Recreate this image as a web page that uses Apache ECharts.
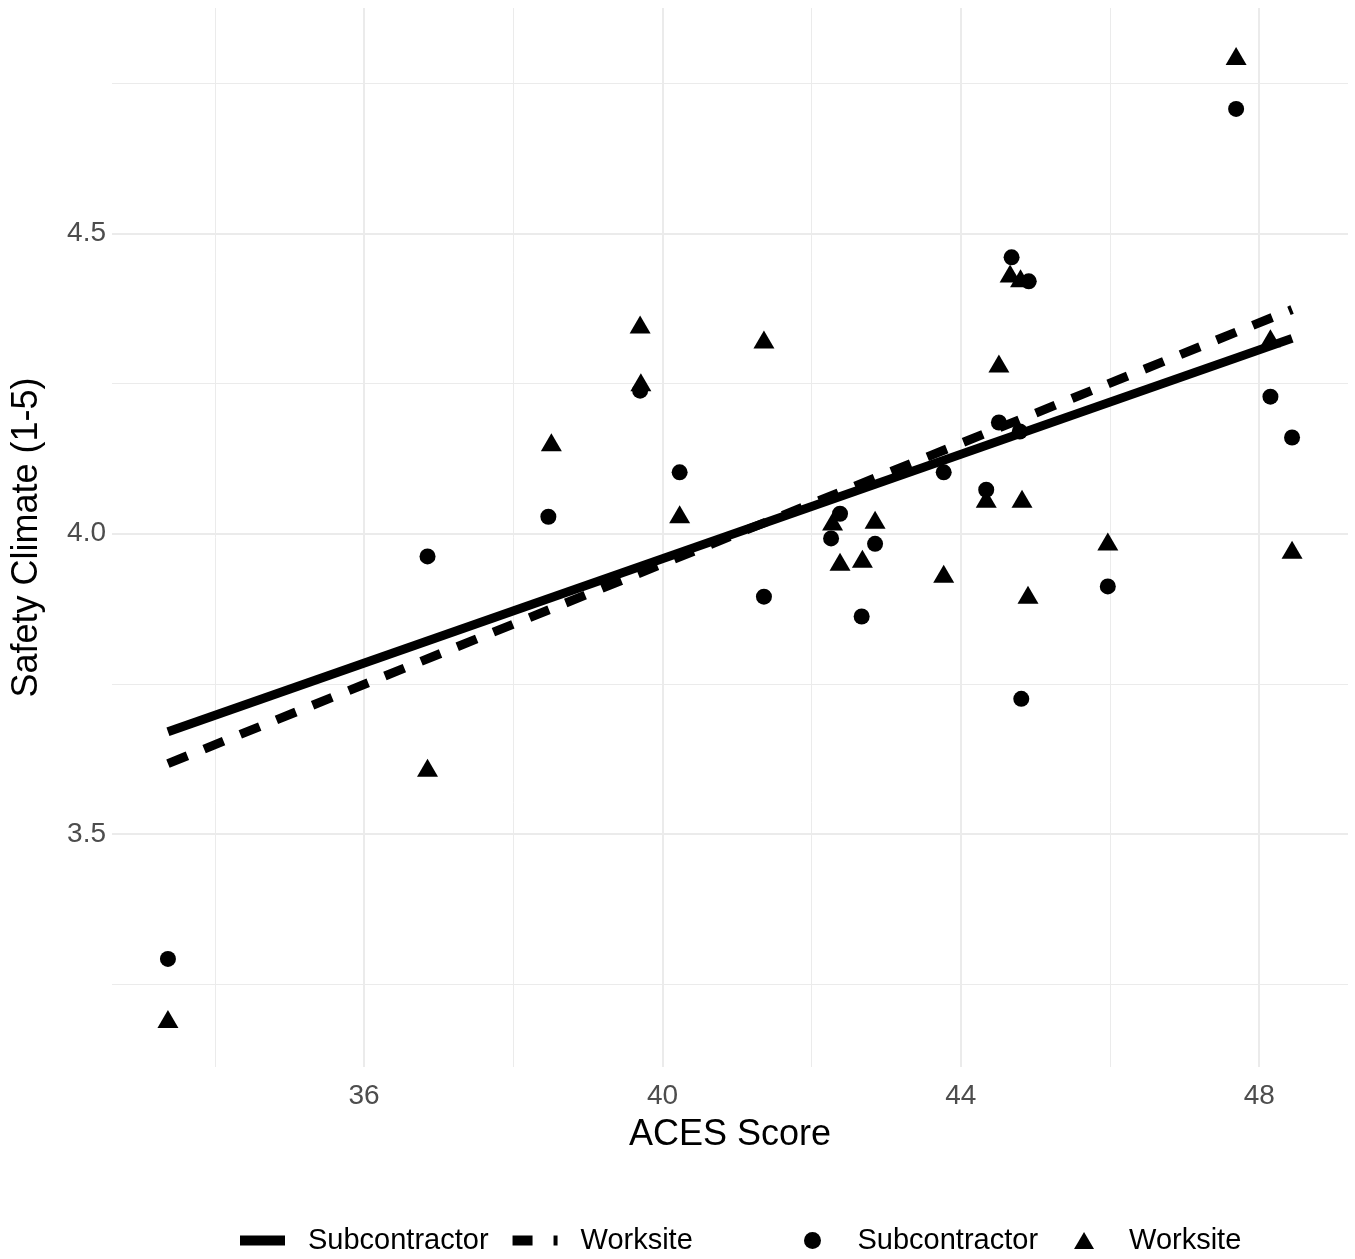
<!DOCTYPE html>
<html><head><meta charset="utf-8">
<script src="https://cdn.jsdelivr.net/npm/echarts@6/dist/echarts.min.js"></script>
<style>html,body{margin:0;padding:0;background:#fff}#c{width:1355px;height:1259px}</style>
</head><body><div id="c"></div>
<script>
// Subcontractor (circles)
const subX = [33.37, 36.85, 38.47, 39.70, 40.23, 41.36, 42.26, 42.38, 42.67, 42.85, 43.77, 44.34, 44.51, 44.68, 44.79, 44.91, 44.81, 45.97, 47.69, 48.15, 48.44];
const subY = [3.292, 3.962, 4.028, 4.238, 4.102, 3.895, 3.992, 4.033, 3.862, 3.983, 4.102, 4.073, 4.185, 4.460, 4.170, 4.420, 3.725, 3.912, 4.707, 4.228, 4.160];
// Worksite (triangles)
const workX = [33.37, 36.85, 38.51, 39.70, 39.71, 40.23, 41.36, 42.28, 42.38, 42.68, 42.85, 43.77, 44.34, 44.51, 44.66, 44.80, 44.82, 44.90, 45.97, 47.69, 48.15, 48.44];
const workY = [3.192, 3.610, 4.152, 4.348, 4.252, 4.032, 4.323, 4.020, 3.953, 3.958, 4.023, 3.933, 4.058, 4.283, 4.433, 4.425, 4.058, 3.898, 3.987, 4.795, 4.325, 3.973];
// Fitted regression lines
const fitX = [33.37, 48.44];
const subFitY = [3.670, 4.325];
const workFitY = [3.617, 4.373];
// Axes
const xRange = [32.62, 49.19];
const yRange = [3.112, 4.875];
const xMajorTicks = [36, 40, 44, 48];
const xMinorTicks = [34, 38, 42, 46];
const yMajorTicks = [3.5, 4.0, 4.5];
const yMinorTicks = [3.25, 3.75, 4.25, 4.75];

const FONT = '"Liberation Sans", Arial, Helvetica, sans-serif';
const zip = (a, b) => a.map((v, i) => [v, b[i]]);

const chart = echarts.init(document.getElementById('c'), null, {renderer: 'canvas'});
const hidden = {show: false};
chart.setOption({
  animation: false,
  backgroundColor: '#fff',
  grid: {left: 112, right: 7, top: 8, bottom: 192, containLabel: false},
  xAxis: [
    {type: 'value', min: xRange[0], max: xRange[1],
     name: 'ACES Score', nameLocation: 'middle', nameGap: 50,
     nameTextStyle: {fontSize: 36, color: '#000', fontFamily: FONT},
     axisLine: hidden,
     axisTick: {show: false, customValues: xMajorTicks},
     axisLabel: {customValues: xMajorTicks, fontSize: 28, color: '#4d4d4d', fontFamily: FONT, margin: 15},
     splitLine: {show: true, lineStyle: {color: '#ebebeb', width: 2}}},
    {type: 'value', min: xRange[0], max: xRange[1], position: 'bottom',
     axisLine: hidden,
     axisTick: {show: false, customValues: xMinorTicks},
     axisLabel: {show: false, customValues: xMinorTicks},
     splitLine: {show: true, lineStyle: {color: '#ebebeb', width: 1}}}
  ],
  yAxis: [
    {type: 'value', min: yRange[0], max: yRange[1],
     name: 'Safety Climate (1-5)', nameLocation: 'middle', nameGap: 67,
     nameTextStyle: {fontSize: 36, color: '#000', fontFamily: FONT},
     axisLine: hidden,
     axisTick: {show: false, customValues: yMajorTicks},
     axisLabel: {customValues: yMajorTicks, fontSize: 28, color: '#4d4d4d', fontFamily: FONT, margin: 6,
                 formatter: v => Number(v).toFixed(1)},
     splitLine: {show: true, lineStyle: {color: '#ebebeb', width: 2}}},
    {type: 'value', min: yRange[0], max: yRange[1], position: 'left',
     axisLine: hidden,
     axisTick: {show: false, customValues: yMinorTicks},
     axisLabel: {show: false, customValues: yMinorTicks},
     splitLine: {show: true, lineStyle: {color: '#ebebeb', width: 1}}}
  ],
  legend: [
    {data: [{name: 'Subcontractor fit', icon: 'path://M0,0h45v10h-45z'},
            {name: 'Worksite fit', icon: 'path://M0,0h20v10h-20z M41,0h4v10h-4z'}],
     left: 235, top: 1221,
     itemWidth: 45, itemHeight: 10, itemGap: 24,
     formatter: n => n.replace(' fit', ''),
     textStyle: {fontSize: 29, color: '#000', fontFamily: FONT, padding: [0, 0, 0, 18]}},
    {data: [{name: 'Subcontractor', icon: 'circle'}, {name: 'Worksite', icon: 'triangle'}],
     left: 799, top: 1221, itemWidth: 20, itemHeight: 17, itemGap: 36,
     textStyle: {fontSize: 29, color: '#000', fontFamily: FONT, padding: [0, 0, 0, 30]}}
  ],
  series: [
    {name: 'Subcontractor fit', type: 'line', data: zip(fitX, subFitY), showSymbol: false, symbol: 'none',
     lineStyle: {color: '#000', width: 9, type: 'solid'}, itemStyle: {color: '#000'}, z: 3},
    {name: 'Worksite fit', type: 'line', data: zip(fitX, workFitY), showSymbol: false, symbol: 'none',
     lineStyle: {color: '#000', width: 9, type: [21, 18]}, itemStyle: {color: '#000'}, z: 3},
    {name: 'Subcontractor', type: 'scatter', data: zip(subX, subY), symbol: 'circle', symbolSize: 16,
     itemStyle: {color: '#000', opacity: 1}, z: 4},
    {name: 'Worksite', type: 'scatter', data: zip(workX, workY), symbol: 'triangle', symbolSize: [21, 18],
     itemStyle: {color: '#000', opacity: 1}, z: 4}
  ]
});
</script></body></html>
